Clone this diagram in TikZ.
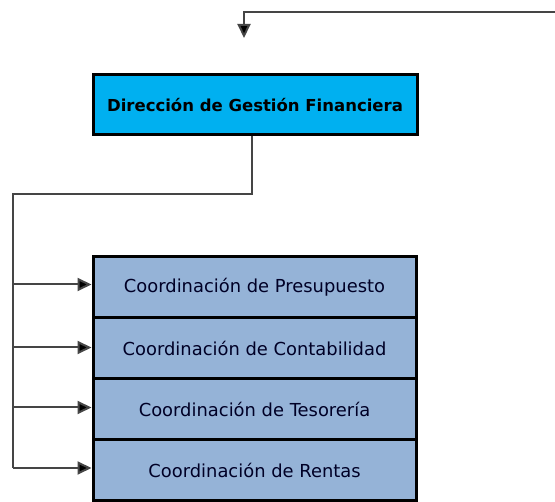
\documentclass[tikz,border=0pt]{standalone}
\usepackage{fontspec}
\setmainfont{DejaVu Sans}
\usetikzlibrary{arrows.meta}
\definecolor{topfill}{HTML}{00B0F0}
\definecolor{subfill}{HTML}{95B3D7}
\definecolor{linegray}{HTML}{454545}
\begin{document}
\begin{tikzpicture}[x=1pt,y=1pt,
  topbox/.style={draw=black, line width=3pt, fill=topfill, minimum width=324pt, minimum height=60pt, inner sep=0pt, font=\fontsize{16.5}{18}\selectfont\bfseries},
  subbox/.style={draw=black, line width=3pt, fill=subfill, minimum width=323pt, minimum height=61pt, inner sep=0pt, text=black!85!blue, font=\fontsize{17.9}{19}\selectfont},
  conn/.style={draw=linegray, line width=2pt},
  arr/.style={conn, -{Triangle[length=14pt,width=13pt,fill=black]}}]
\useasboundingbox (0,0) rectangle (555,-502);
\node[topbox] (top) at (255,-105) {Dirección de Gestión Financiera};
\node[subbox] (b1) at (254.5,-287.5) {Coordinación de Presupuesto};
\node[subbox] (b2) at (254.5,-348.5) {Coordinación de Contabilidad};
\node[subbox] (b3) at (254.5,-409.5) {Coordinación de Tesorería};
\node[subbox] (b4) at (254.5,-470.5) {Coordinación de Rentas};
\coordinate (in0) at (555,-12);
\coordinate (in1) at (244,-12);
\coordinate (in2) at (244,-38);
\draw[arr] (in0) -- (in1) -- (in2);
\coordinate (bus) at (13,-194);
\coordinate (busend) at (13,-468);
\draw[conn] ([xshift=-3pt]top.south) |- (bus) -- (busend);
\coordinate (e1) at ([yshift=3pt]b1.west);
\coordinate (e2) at ([yshift=1pt]b2.west);
\coordinate (e3) at ([yshift=2pt]b3.west);
\coordinate (e4) at ([yshift=2.5pt]b4.west);
\draw[arr] (e1 -| bus) -- (e1);
\draw[arr] (e2 -| bus) -- (e2);
\draw[arr] (e3 -| bus) -- (e3);
\draw[arr] (e4 -| bus) -- (e4);
\end{tikzpicture}
\end{document}
